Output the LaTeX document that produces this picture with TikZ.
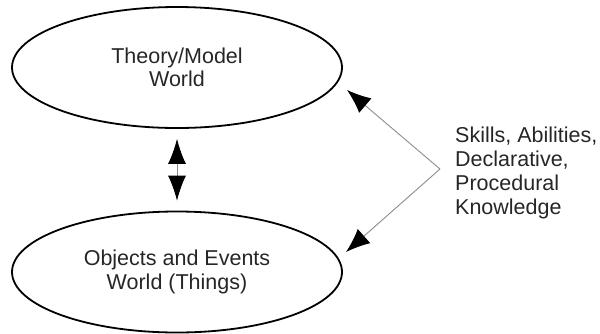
\documentclass[tikz,border=0pt]{standalone}
\usepackage{fontspec}
\setmainfont{Liberation Sans}
\usetikzlibrary{shapes.geometric,arrows.meta}
\tikzset{
  world/.style={draw=black, line width=1.8pt, ellipse, minimum width=330pt,
    minimum height=121pt, inner sep=0pt, align=center, text=black!85,
    font=\fontsize{21.5pt}{23.5pt}\selectfont},
  link/.style={draw=black!45, line width=0.9pt,
    arrows={Latex[length=25pt,width=18pt,color=black]-Latex[length=25pt,width=18pt,color=black]}},
  oneway/.style={draw=black!45, line width=0.9pt,
    arrows={-Latex[length=24pt,width=19pt,color=black]}},
  label/.style={align=left, inner sep=0pt, text=black!85,
    font=\fontsize{21.5pt}{24.3pt}\selectfont}
}
\begin{document}
\begin{tikzpicture}[x=1pt,y=-1pt]
  \useasboundingbox (0,0) rectangle (600,333);
  \node[world] (theory) at (177,67.5) {Theory/Model\\World};
  \node[world] (things) at (177,272) {Objects and Events\\World (Things)};
  \draw[link, shorten <=10pt, shorten >=10pt] (theory) -- (things);

  \node[label, anchor=north west] (skills) at (455,126.3)
    {Skills, Abilities,\\Declarative,\\Procedural\\Knowledge};
  \coordinate (fork) at (440,169);
  \coordinate (toTheory) at (347,90);
  \coordinate (toThings) at (346,252);
  \draw[oneway] (fork) -- (toTheory);
  \draw[oneway] (fork) -- (toThings);
\end{tikzpicture}
\end{document}
